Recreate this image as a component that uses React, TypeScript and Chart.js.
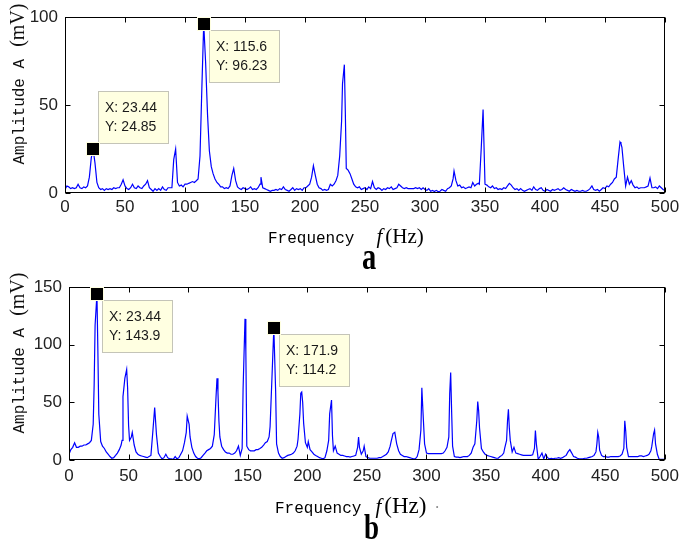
import React, { useEffect, useRef } from "react";
import { Chart, registerables } from "chart.js";
Chart.register(...registerables);

// ---------- Data: spectrum a ----------
const FREQ_A = [0,1.56,3.1,4.7,6.25,7.8,9.4,10.9,12.5,14.1,15.6,17.2,18.75,20.3,21.9,23.44,25.0,26.6,28.1,29.7,31.25,32.8,34.4,35.9,37.5,39.1,40.6,42.2,43.75,45.3,46.9,48.4,50,51.6,53.1,54.7,56.25,57.8,59.4,60.9,62.5,64.1,65.6,67.2,68.75,70.3,71.9,73.4,75,76.6,78.1,79.7,81.25,82.8,84.4,85.9,87.5,89.1,90.6,92.2,93.75,95.3,96.9,98.4,100,101.6,103.1,104.7,106.25,107.8,109.4,110.9,112.5,114.1,115.6,117.2,118.75,120.3,121.9,123.4,125,126.6,128.1,129.7,131.25,132.8,134.4,135.9,137.5,139.1,140.6,142.2,143.75,145.3,146.9,148.4,150,151.6,153.1,154.7,156.25,157.8,159.4,160.9,162.5,163.3,164.8,166.4,167.9,169.5,171.1,172.7,174.2,175.8,177.3,178.9,180.5,182,183.6,185.2,186.7,188.3,189.8,191.4,192.9,194.5,196.1,197.7,199.2,200.8,202.3,203.9,205.5,207,208.6,210.2,211.7,213.3,214.8,216.4,217.9,219.5,221.1,222.7,224.2,225.8,227.3,228.9,230.5,231.25,232.8,233.6,234.4,235.9,237.5,239.1,240.6,242.2,243.75,245.3,246.9,248.4,250,251.6,253.1,254.7,256.25,257.8,259.4,260.9,262.5,264.1,265.6,267.2,268.75,270.3,271.9,273.4,275,276.6,278.1,279.7,281.25,282.8,284.4,285.9,287.5,289.1,290.6,292.2,293.75,295.3,296.9,298.4,300,301.6,303.1,304.7,306.25,307.8,309.4,310.9,312.5,314.1,315.6,317.2,318.75,320.3,321.9,323.4,324.2,325.8,327.3,328.9,330.5,332,333.6,335.2,336.7,338.3,339.8,341.4,342.9,344.5,345.3,346.9,348.4,350,351.6,353.1,354.7,356.25,357.8,359.4,360.9,362.5,364.1,365.6,367.2,368.75,370.3,371.9,373.4,375,376.6,378.1,379.7,381.25,382.8,384.4,385.9,387.5,389.1,390.6,392.2,393.75,395.3,396.9,398.4,400,401.6,403.1,404.7,406.25,407.8,409.4,410.9,412.5,414.1,415.6,417.2,418.75,420.3,421.9,423.4,425,426.6,428.1,429.7,431.25,432.8,434.4,435.9,437.5,439.1,440.6,442.2,443.75,445.3,446.9,448.4,450,451.6,453.1,454.7,456.25,457.8,459.4,460.9,462.5,463.3,464.1,465.6,467.2,468.75,470.3,471.9,473.4,475,476.6,478.1,479.7,481.25,482.8,484.4,485.9,487.5,489.1,490.6,492.2,493.75,495.3,496.9,498.4,500];
const AMP_A = [2,4,3.5,2.5,3,2.5,3,5,3,2.5,3.5,3,4,9,20,24.85,17,6,3,2,2.5,1.5,2.5,2,2.5,2,3,2.5,3,3,5,7.5,4,2.5,2,3,5,3,2.5,4,3,2.5,4,5,7,3,2,1,2.5,1.5,2.5,1.5,3.5,2,1.5,3,3,3,19,25,6,4,4.5,3.5,5,5,5.5,6,6.5,6,7,8,21,61,96.23,74,45,24,15,11,8,6,5,3.5,3.5,2.5,3,2.5,4,10,14,7,3.5,2.5,2,3,2.5,2,2.5,3.5,2,2.5,2,3,5,9,3,2.5,2,1.5,1,1.5,1.5,2,1.5,2.5,2,3.5,2,1.5,1,2,3,1.5,2.5,2,2.5,1.5,3,3,4,5,9,15.5,10,5,3,2.5,1.5,2,1.5,2,5,4,5,7,10,21,41,62,73,46,14,13,11,8,5,3.5,3,3.5,2,2.5,3,2,3.5,2.5,6.5,3,2,3,2.5,1.5,2.5,2,3,2.5,3.5,2,2.5,3,5,4,3,2.5,3,2.5,2.5,2.5,2.5,3,2.5,3,2,3,2,1.5,2.5,1,1.5,0.8,1.5,0.8,1,2,1.5,1,2.5,3,4,8,12.5,7,4,4.5,3,3.5,2.5,3,3.5,3,6,4,5,5.5,5,26,47.5,5,4.5,3.5,3,4,2.5,3,2,2.5,2,3,2.5,4,5.5,4.5,3,2,2.5,1.5,2.5,1.5,1,1.5,2,2.5,1.5,3.5,2,1.5,2.5,3,1.5,1,2,1.5,1,2,1.5,2,2.5,1.5,2,3,2,1.5,1,2,1.5,1,1.5,1,1,1.5,1,1,1.5,2.5,4,2,1.5,2,1,2,3,2.5,4,3.5,5,6,8,9,19,29,28,26,15,4,9,5,7,4.5,3,3.5,2.5,3,3,3,3.5,4,8.5,3,3,3.5,2.5,4,3,2,1.5];
const TIP_X_A = [23.44, 115.6];
const TIP_Y_A = [24.85, 96.23];

// ---------- Data: spectrum b ----------
const FREQ_B = [0,1.56,3.1,4.7,6.25,7.8,9.4,10.9,12.5,14.1,15.6,17.2,18.75,20.3,21.1,21.9,23.44,24.2,25.0,26.6,28.1,29.7,31.25,32.8,34.4,35.9,37.5,39.1,40.6,42.2,43.75,44.5,45.3,46.9,48.4,49.2,50,50.8,52.3,53.1,54.7,56.25,57.8,59.4,60.9,62.5,64.1,65.6,67.2,68.75,70.3,71.9,73.4,75,76.6,78.1,79.7,81.25,82.8,84.4,85.9,87.5,89.1,90.6,92.2,93.75,95.3,96.9,98.4,99.2,100.8,101.6,103.1,104.7,106.25,107.8,109.4,110.9,112.5,114.1,115.6,117.2,118.75,120.3,121.9,123.4,124.2,125,125.8,126.6,128.1,129.7,131.25,132.8,134.4,135.9,137.5,139.1,140.6,142.2,143.75,145.3,146.1,147.7,148.4,149.2,150.8,152.3,153.9,155.5,157,158.6,160.2,161.7,163.3,164.8,166.4,167.9,168.75,170.3,171.1,171.9,173.4,174.2,175.8,177.3,178.9,180.5,182,183.6,185.2,186.7,188.3,189.8,191.4,192.2,193.75,194.5,195.3,196.1,196.9,198.4,200,200.8,202.3,203.9,205.5,207,208.6,210.2,211.7,213.3,214.8,216.4,217.9,218.75,220.3,221.1,221.9,223.4,225,226.6,228.1,229.7,231.25,232.8,234.4,235.9,237.5,239.1,240.6,242.2,243,243.75,245.3,246.9,247.7,249.2,250.8,252.3,253.9,255.5,257,258.6,260.2,261.7,263.3,264.8,266.4,267.9,269.5,270.3,271.9,273.4,275,276.6,278.1,279.7,281.25,282.8,284.4,285.9,287.5,289.1,290.6,292.2,293.75,295.3,296.1,296.9,298.4,300,301.6,303.1,304.7,306.25,307.8,309.4,310.9,312.5,314.1,315.6,317.2,318.75,319.5,320.3,321.1,321.9,323.4,325,326.6,328.1,329.7,331.25,332.8,334.4,335.9,337.5,339.1,340.6,342.2,343,343.75,344.5,346.1,347.7,349.2,350.8,352.3,353.9,355.5,357,358.6,360.2,361.7,363.3,364.8,365.6,367.2,368,368.75,369.5,370.3,371.9,373.4,375,376.6,378.1,379.7,381.25,382.8,384.4,385.9,387.5,389.1,390.6,391.4,392.2,393.75,395.3,396.9,398.4,400,401.6,403.1,404.7,406.25,407.8,409.4,410.9,412.5,414.1,415.6,417.2,418.75,420.3,421.9,423.4,425,426.6,428.1,429.7,431.25,432.8,434.4,435.9,437.5,439.1,440.6,442.2,443,443.75,444.5,445.3,446.9,448.4,450,451.6,453.1,454.7,456.25,457.8,459.4,460.9,462.5,464.1,465.6,466.4,467.2,468,469.5,471.1,472.7,474.2,475.8,477.3,478.9,480.5,482,483.6,485.2,486.7,488.3,489.1,490.6,491.4,492.2,493.75,495.3,496.9,498.4,500];
const AMP_B = [5,9,11,15,11,11,12,12,13,13,14,15,17,31,65,117,143.9,97,40,16,12,10,7,5,3,1.5,2,4,6,9,13,17,55,71,78.5,62,30,17,20,24,13,7,5,4,3.5,3,2.5,2,3,4,24,45.5,22,6,3,1,2,5,2,1,1,0.5,3,1,2,5,8,15,24,38,31,20,11,6,3,1.5,1,2,4,6,8,9,10,12,22,55,71,59,34,20,12,9,7,6,6,5,5,6,8,12,4,10,62,122.5,95,12,9,8,8,8,9,9,10,11,13,15,16,20,29,71,93,114.2,60,14,6,3,1.5,2,3,4,4.5,5,6,8,12,18,40,58,59,50,32,15,11,16,9,7,5,4,3,2,1.5,1,2,8,17,40,52,21,8,12,6,5,4,4,3.5,3,3,2.5,3,3.5,4,11,20,11,5,8,12,3,2,1.5,1.5,1.5,1.5,1.5,2,2,3,4,5,7,12,16,23,24,14,8,5,4,3,3,2.5,2,1.5,1,1,3,9,26,62.7,45,14,6,5.5,5.5,5.5,5.5,5.5,5.5,5.5,5.5,6,8,11,20,58,76,42,12,3,2.5,2.5,2,2.5,3,3,3,4,6,11,14,34,50.7,43,28,10,7,5,4,3.5,3,2.5,2,1.5,1.5,3,4,6,10,17,34,44,28,17,7,11,6,5.5,5,4.5,4,4,4,4,4,4.5,10,25.6,14,0.5,3,6,1,5,2,1,1.5,1,1.5,1.5,2,1.5,2,3,4,7,9,6,3,2.5,1.5,1,1,1,1.5,1.5,2,2.5,3,4,7,14,24,20,8.5,4,3,3,2.5,2.5,3,3,3,3,3,3.5,5,10,34,25,11,3,3,3,3,3,3,3.5,3.5,3,3.5,4,5,8,12,23,26,14,5,0.5,0.5,0.5,0.5];
const TIP_X_B = [23.44, 171.9];
const TIP_Y_B = [143.9, 114.2];

const X_MIN = 0;
const X_MAX = 500;
const X_STEP = 50;
const Y_STEP = 50;
const Y_MAX_A = 100;
const Y_MAX_B = 150;

const SANS = '"Liberation Sans", Arial, sans-serif';
const MONO = '"Liberation Mono", "Courier New", monospace';
const SERIF = '"Liberation Serif", "Times New Roman", serif';

const frameTips = {
  id: "frameTips",
  afterDraw(chart: any, _args: any, opts: any) {
    const { ctx, chartArea: a, scales } = chart;
    const xs = scales.x;
    const ys = scales.y;
    ctx.save();
    ctx.strokeStyle = "#000";
    ctx.lineWidth = 1;
    const L = Math.round(a.left) + 0.5;
    const R = Math.round(a.right) - 0.5;
    const T = Math.round(a.top) + 0.5;
    const B = Math.round(a.bottom) - 0.5;
    ctx.strokeRect(L, T, R - L, B - T);
    ctx.beginPath();
    xs.ticks.forEach((t: any) => {
      const p = Math.round(xs.getPixelForValue(t.value)) + 0.5;
      ctx.moveTo(p, B); ctx.lineTo(p, B - 5);
      ctx.moveTo(p, T); ctx.lineTo(p, T + 5);
    });
    ys.ticks.forEach((t: any) => {
      const p = Math.round(ys.getPixelForValue(t.value)) + 0.5;
      ctx.moveTo(L, p); ctx.lineTo(L + 5, p);
      ctx.moveTo(R, p); ctx.lineTo(R - 5, p);
    });
    ctx.stroke();

    const tx: number[] = opts.tipX || [];
    const ty: number[] = opts.tipY || [];
    const above: boolean[] = opts.above || [];
    tx.forEach((xv, i) => {
      const yv = ty[i];
      const px = Math.round(xs.getPixelForValue(xv));
      const py = Math.round(ys.getPixelForValue(yv));
      const w = 71, h = 53;
      const bx = px + 5;
      const by = above[i] ? py - 5 - h : py + 6;
      ctx.fillStyle = "#FFFFE1";
      ctx.fillRect(bx, by, w, h);
      ctx.strokeStyle = "#C4C4B8";
      ctx.strokeRect(bx + 0.5, by + 0.5, w - 1, h - 1);
      ctx.fillStyle = "#1a1a1a";
      ctx.font = "14px " + SANS;
      ctx.textBaseline = "middle";
      ctx.textAlign = "left";
      ctx.fillText("X: " + xv, bx + 7, by + 17);
      ctx.fillText("Y: " + yv, bx + 7, by + 36);
      ctx.fillStyle = "#FFFFE1";
      ctx.fillRect(px - 7, py - 7, 14, 14);
      ctx.fillStyle = "#000";
      ctx.fillRect(px - 6, py - 6, 12, 12);
    });
    ctx.restore();
  },
};

function makeConfig(freq: number[], amp: number[], yMax: number, tipX: number[], tipY: number[], above: boolean[], pad: any, yWidth: number, xHeight: number, xPad: number): any {
  const tickFont = { family: SANS, size: 17 };
  return {
    type: "line",
    data: {
      datasets: [
        {
          data: freq.map((f, i) => ({ x: f, y: amp[i] })),
          borderColor: "#0000FF",
          borderWidth: 1.2,
          pointRadius: 0,
          tension: 0,
          fill: false,
        },
      ],
    },
    options: {
      animation: false,
      responsive: false,
      events: [],
      layout: { padding: pad },
      plugins: {
        legend: { display: false },
        tooltip: { enabled: false },
        frameTips: { tipX, tipY, above },
      },
      scales: {
        x: {
          type: "linear",
          min: X_MIN,
          max: X_MAX,
          ticks: { stepSize: X_STEP, font: tickFont, color: "#222", padding: xPad, maxRotation: 0, autoSkip: false },
          grid: { display: false, drawTicks: false },
          border: { display: false },
          afterFit: (s: any) => { s.height = xHeight; },
        },
        y: {
          type: "linear",
          min: 0,
          max: yMax,
          ticks: { stepSize: Y_STEP, font: tickFont, color: "#222", padding: 7 },
          grid: { display: false, drawTicks: false },
          border: { display: false },
          afterFit: (s: any) => { s.width = yWidth; },
        },
      },
    },
    plugins: [frameTips],
  };
}

const abs = (o: any): any => ({ position: "absolute", whiteSpace: "nowrap", ...o });

function XTitle({ left, top, gap, hzSize, dot }: { left: number; top: number; gap: number; hzSize: number; dot?: boolean }) {
  return (
    <div style={abs({ left, top, lineHeight: "24px", color: "#000" })}>
      <span style={{ fontFamily: MONO, fontSize: 16 }}>Frequency</span>
      <span style={{ fontFamily: SERIF, fontStyle: "italic", fontSize: 21, marginLeft: gap }}>f</span>
      <span style={{ fontFamily: SERIF, fontSize: hzSize, marginLeft: 3 }}>(Hz)</span>
      {dot ? <span style={{ fontFamily: SERIF, fontSize: 16, marginLeft: 8, color: "#888" }}>·</span> : null}
    </div>
  );
}

function YTitle({ cx, cy }: { cx: number; cy: number }) {
  return (
    <div style={abs({ left: cx, top: cy, lineHeight: "22px", color: "#111", transform: "translate(-50%,-50%) rotate(-90deg)" })}>
      <span style={{ fontFamily: MONO, fontSize: 16 }}>Amplitude A</span>
      <span style={{ fontFamily: SERIF, fontSize: 20, marginLeft: 12 }}>(mV)</span>
    </div>
  );
}

export default function App() {
  const refA = useRef<HTMLCanvasElement>(null);
  const refB = useRef<HTMLCanvasElement>(null);
  useEffect(() => {
    const ca = new Chart(refA.current as HTMLCanvasElement,
      makeConfig(FREQ_A, AMP_A, Y_MAX_A, TIP_X_A, TIP_Y_A, [true, false], { top: 10, right: 20, left: 0, bottom: 0 }, 65, 32, 4));
    const cb = new Chart(refB.current as HTMLCanvasElement,
      makeConfig(FREQ_B, AMP_B, Y_MAX_B, TIP_X_B, TIP_Y_B, [false, false], { top: 14, right: 16, left: 0, bottom: 0 }, 69, 40, 6));
    return () => { ca.destroy(); cb.destroy(); };
  }, []);
  return (
    <div style={abs({ left: 0, top: 0, width: 685, height: 543, background: "#fff", overflow: "hidden" })}>
      <canvas ref={refA} width={685} height={225} style={abs({ left: 0, top: 0, width: 685, height: 225 })} />
      <canvas ref={refB} width={685} height={230} style={abs({ left: 0, top: 270, width: 685, height: 230 })} />
      <YTitle cx={18} cy={84} />
      <YTitle cx={18} cy={353} />
      <XTitle left={268} top={224} gap={22} hzSize={21} />
      <XTitle left={275} top={494} gap={14} hzSize={23} dot />
      <div style={abs({ left: 362, top: 234, fontFamily: SERIF, fontWeight: "bold", fontSize: 38, lineHeight: "44px", color: "#000", transform: "scaleX(0.75)", transformOrigin: "left top" })}>a</div>
      <div style={abs({ left: 364, top: 505, fontFamily: SERIF, fontWeight: "bold", fontSize: 36, lineHeight: "44px", color: "#000", transform: "scaleX(0.75)", transformOrigin: "left top" })}>b</div>
    </div>
  );
}
